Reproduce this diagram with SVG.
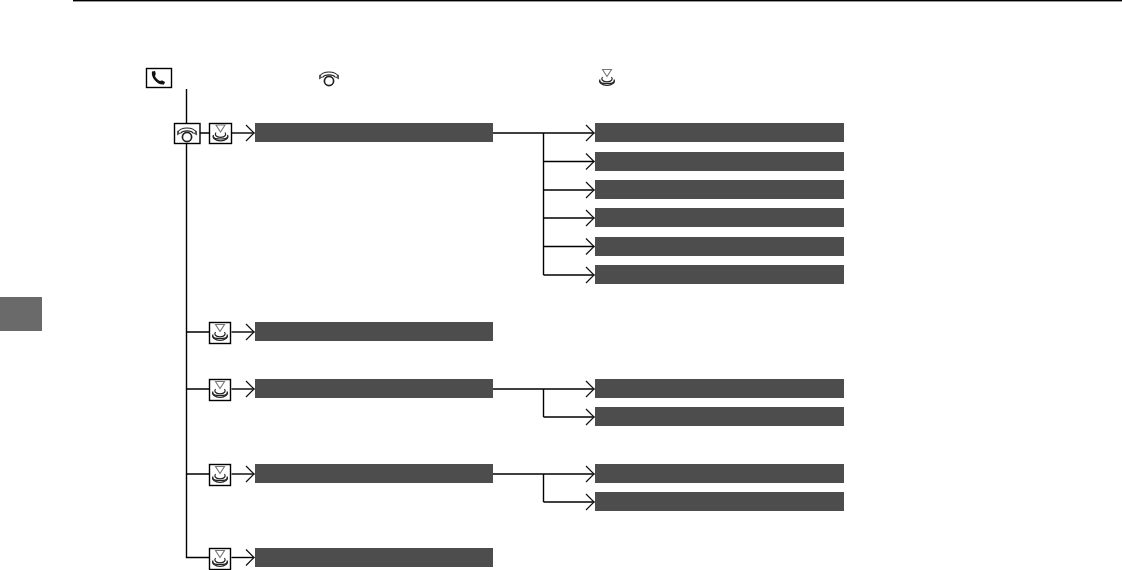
<svg xmlns="http://www.w3.org/2000/svg" width="1122" height="570" viewBox="0 0 1122 570">
<style>
.bar{fill:#4d4d4d}
.ln{fill:none;stroke:#000;stroke-width:1.4}
.ic{fill:none;stroke:#222;stroke-width:1.2}
.box{fill:#fff;stroke:#000;stroke-width:1.4}
</style>
<defs>
<marker id="ah" markerUnits="userSpaceOnUse" markerWidth="11" markerHeight="18" refX="9.500" refY="9" orient="auto"><path d="M1 1L9 9L1 17" fill="none" stroke="#111" stroke-width="1.200"/></marker>
<g id="push"><path d="M-4.500 -8.500H4.500L0 -1.500Z" fill="none" stroke="#777" stroke-width="1.100"/><path class="ic" d="M-4.500 -1C-6 1 -5 3.800 0 3.800S6 1 4.500 -1"/><path class="ic" d="M-7 1.500C-8.500 4.500 -5 7.300 0 7.300S8.500 4.500 7 1.500"/><path class="ic" d="M-7.300 3C-7 5.500 -4 5.500 0 5.500S7 5.500 7.300 3"/></g>
<g id="rot"><circle cx="0" cy="3" r="4.600" fill="none" stroke="#222" stroke-width="1.700"/><path class="ic" d="M-9.500 -1.500C-6 -7.500 6 -7.500 9.500 -1.500M-6.500 -0.500C-4 -4 4 -4 6.500 -0.500"/><path d="M-10 -3.500L-10 1.500L-6.500 -0.500ZM10 -3.500L10 1.500L6.500 -0.500Z" fill="#555"/></g>
</defs>
<rect id="top-rule" x="73" y="0" width="1049" height="1.400" fill="#000"/>
<rect id="side-tab" x="0" y="297" width="42" height="34" fill="#6a6a6a"/>
<g id="connectors">
<path class="ln" d="M186.500 89V124M186.500 143V557.500H209.500M186.500 332H209.500M186.500 389H209.500M186.500 474H209.500M200 133H209.500"/>
<path class="ln" marker-end="url(#ah)" d="M231.500 133H254.500"/>
<path class="ln" marker-end="url(#ah)" d="M231.500 332H254.500"/>
<path class="ln" marker-end="url(#ah)" d="M231.500 389H254.500"/>
<path class="ln" marker-end="url(#ah)" d="M231.500 474H254.500"/>
<path class="ln" marker-end="url(#ah)" d="M231.500 557.500H254.500"/>
<path class="ln" marker-end="url(#ah)" d="M493 133H594.500"/>
<path class="ln" marker-end="url(#ah)" d="M543.500 161.500H594.500"/>
<path class="ln" marker-end="url(#ah)" d="M543.500 190H594.500"/>
<path class="ln" marker-end="url(#ah)" d="M543.500 218H594.500"/>
<path class="ln" marker-end="url(#ah)" d="M543.500 246.500H594.500"/>
<path class="ln" marker-end="url(#ah)" d="M543.500 275H594.500"/>
<path class="ln" marker-end="url(#ah)" d="M493 389H594.500"/>
<path class="ln" marker-end="url(#ah)" d="M543.500 417H594.500"/>
<path class="ln" marker-end="url(#ah)" d="M493 474H594.500"/>
<path class="ln" marker-end="url(#ah)" d="M543.500 502H594.500"/>
<path class="ln" d="M543.500 133V275M543.500 389V417M543.500 474V502"/>
</g>
<g id="phone-button"><rect class="box" x="146.500" y="68.500" width="25" height="19"/><path d="M152 71.500L155 71C155.800 73 156 74.500 155 76C156 78.500 158 80 160 81C161.500 80 163 80.500 165 82L164 84.500C158 85.500 150.500 78 152 71.500Z" fill="#111"/></g>
<g id="legend-rotate"><use href="#rot" x="329" y="78"/></g>
<g id="legend-push"><use href="#push" x="607" y="78"/></g>
<g id="rotate-node"><rect class="box" x="174.500" y="123.500" width="25.500" height="20"/><use href="#rot" x="187" y="134"/></g>
<g id="push-1"><rect class="box" x="209.500" y="123.500" width="22" height="20"/><use href="#push" x="220.500" y="133.500"/></g>
<g id="push-2"><rect class="box" x="209.500" y="322.500" width="21" height="21"/><use href="#push" x="220" y="333"/></g>
<g id="push-3"><rect class="box" x="209.500" y="379.500" width="21" height="21"/><use href="#push" x="220" y="390"/></g>
<g id="push-4"><rect class="box" x="209.500" y="464.500" width="21" height="21"/><use href="#push" x="220" y="475"/></g>
<g id="push-5"><rect class="box" x="209.500" y="548.500" width="21" height="21"/><use href="#push" x="220" y="559"/></g>
<g id="bar-l1"><rect class="bar" x="255" y="123" width="238" height="19"/></g>
<g id="bar-l2"><rect class="bar" x="255" y="322" width="238" height="19"/></g>
<g id="bar-l3"><rect class="bar" x="255" y="379" width="238" height="19"/></g>
<g id="bar-l4"><rect class="bar" x="255" y="464" width="238" height="19"/></g>
<g id="bar-l5"><rect class="bar" x="255" y="548" width="238" height="19"/></g>
<g id="bar-r1"><rect class="bar" x="595" y="123" width="249" height="19"/></g>
<g id="bar-r2"><rect class="bar" x="595" y="152" width="249" height="19"/></g>
<g id="bar-r3"><rect class="bar" x="595" y="180" width="249" height="19"/></g>
<g id="bar-r4"><rect class="bar" x="595" y="208" width="249" height="19"/></g>
<g id="bar-r5"><rect class="bar" x="595" y="237" width="249" height="19"/></g>
<g id="bar-r6"><rect class="bar" x="595" y="265" width="249" height="19"/></g>
<g id="bar-r7"><rect class="bar" x="595" y="379" width="249" height="19"/></g>
<g id="bar-r8"><rect class="bar" x="595" y="407" width="249" height="19"/></g>
<g id="bar-r9"><rect class="bar" x="595" y="464" width="249" height="19"/></g>
<g id="bar-r10"><rect class="bar" x="595" y="492" width="249" height="19"/></g>
</svg>
